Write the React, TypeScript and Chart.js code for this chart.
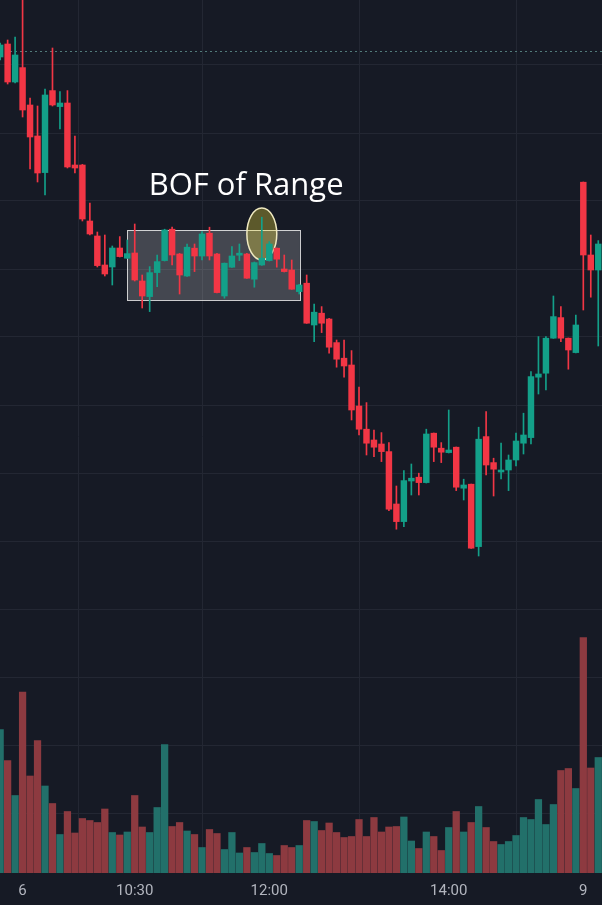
import { useEffect, useRef } from 'react';
import { Chart, registerables } from 'chart.js';

Chart.register(...registerables);

// ---- data (5-minute candles; index 0..80) ----
const openPrices = [480, 486.5, 467.5, 474.7, 456, 440.5, 422.2, 463.2, 455.2, 457, 426, 426, 398, 390.5, 376, 375, 384.5, 379.4, 382, 368, 360.2, 372.2, 378.2, 393.9, 381.5, 370.5, 384.4, 380.5, 391.9, 381.5, 360.5, 374.9, 380.9, 381.5, 368.9, 376, 378.2, 384.4, 374, 373.5, 362.7, 366.9, 346, 351.9, 349, 337.2, 329.4, 326, 305.5, 293.9, 288.5, 286.5, 282.7, 256.5, 247.7, 268, 269.9, 267.2, 291.9, 284.4, 282.2, 284.9, 264.4, 266.4, 235.2, 290.2, 277.2, 272.5, 273.5, 278.5, 286.9, 289.7, 319.9, 321.9, 339.4, 349.7, 339.4, 332.2, 417.4, 381, 373.5];
const highPrices = [487, 488.5, 490, 512, 459.5, 455.5, 464, 484.5, 462.7, 463.2, 440.5, 426.3, 407, 392.5, 391, 385.5, 390.2, 388.5, 396.5, 371, 375.2, 381, 393.9, 394.9, 381.8, 386.5, 386.5, 392.7, 394.9, 381.8, 377, 385.2, 386.5, 381.8, 377.5, 399.9, 387.7, 384.5, 381, 378.5, 366.3, 371, 356.5, 355.2, 349.3, 338.5, 338.5, 333.2, 314.9, 307.2, 293.5, 292.2, 287.2, 265.5, 273.2, 276.5, 271.9, 293.9, 292, 287.2, 303.5, 285, 268.9, 266.5, 294.9, 302.7, 279.4, 286.9, 281, 291.9, 301.9, 322.7, 340.2, 340.2, 360.5, 355.2, 339.5, 351, 417.5, 391, 388.2];
const lowPrices = [478.5, 466.5, 467, 450, 424, 417.5, 411, 455.5, 444, 424.5, 422, 398, 391, 375, 370.5, 366, 380, 379.3, 368, 354.5, 352.7, 365.2, 378, 376, 361.5, 370.3, 372.7, 378.5, 378.5, 362, 359.4, 374.8, 378.2, 369.3, 364.9, 375.8, 378, 374.9, 372.5, 363.8, 361.5, 346.8, 337.7, 342.2, 331.9, 324.9, 319.9, 298.5, 291, 281, 280.2, 277.7, 253.2, 243.9, 245.2, 261, 261, 267, 277.7, 277.2, 282, 263.2, 258.5, 234.3, 230.5, 271, 260.5, 269, 263.2, 275.5, 281.5, 286.5, 311.5, 313.5, 339.3, 337.7, 323.9, 332, 353.5, 359.9, 335.5];
const closePrices = [486, 467.5, 481, 453.5, 440, 422, 461, 456, 457, 425, 424.5, 399, 391.5, 375.7, 371.5, 384.5, 380.2, 381.7, 368.5, 360.5, 372.2, 377.7, 393.5, 381, 371, 384.9, 380.5, 391.5, 380.5, 362.2, 376.9, 380.5, 381.9, 369.4, 377.2, 379.4, 386.5, 378.9, 372.7, 363.9, 366, 346.9, 352.4, 346.9, 334.9, 328.9, 325.5, 303.5, 293.9, 286.9, 284.9, 282.7, 253.9, 247.7, 268.2, 269.4, 267.2, 291.5, 284.9, 282.4, 283.5, 264.9, 266, 234.4, 288.9, 276, 273.9, 273.5, 278.5, 288, 291, 320.2, 321.5, 339.4, 350.2, 339.4, 333.5, 346, 381, 373.5, 386.5];
const volumes = [287, 225, 155, 362, 194, 265, 174, 139, 77, 123, 80, 109, 105, 101, 128, 81, 76, 82, 155, 92, 81, 131, 257, 93, 101, 84, 77, 51, 87, 79, 47, 81, 40, 51, 41, 59, 39, 35, 55, 51, 55, 105, 103, 85, 100, 81, 71, 73, 107, 73, 111, 82, 92, 93, 112, 64, 49, 82, 73, 45, 91, 123, 82, 101, 133, 91, 63, 57, 63, 75, 111, 107, 147, 97, 137, 205, 209, 169, 471, 210, 231];

const tickIndex = [3, 18, 36, 60, 78];
const tickLabels = ['6', '10:30', '12:00', '14:00', '9'];
const priceGrid = [102, 136, 170, 204, 238, 272, 306, 340, 374, 408, 442, 476];

// drawings in data space
const rangeBox = { from: 17, to: 40.1, top: 393.5, bottom: 358.5 };
const bofMark = { at: 35, price: 391.5, halfBars: 2, halfPrice: 13 };
const noteText = 'BOF of Range';
const notePos = { at: 32.9, price: 411 };
const dottedLevel = 482.8;

const UP = '#13a089';
const DOWN = '#f23645';
const UP_VOL = '#22706a';
const DOWN_VOL = '#8d3a40';
const BG = '#161a25';
const GRID = '#232733';

const drawings = {
  id: 'drawings',
  beforeDatasetsDraw(chart: any) {
    const { ctx, scales } = chart;
    const x = scales.x;
    const y = scales.y;
    const area = chart.chartArea;
    ctx.save();
    // dotted level line
    ctx.strokeStyle = 'rgba(92,140,138,0.85)';
    ctx.lineWidth = 1;
    ctx.setLineDash([2, 3]);
    const ly = Math.round(y.getPixelForValue(dottedLevel)) + 0.5;
    ctx.beginPath();
    ctx.moveTo(area.left, ly);
    ctx.lineTo(area.right, ly);
    ctx.stroke();
    ctx.setLineDash([]);
    // range rectangle
    const x0 = x.getPixelForValue(rangeBox.from);
    const x1 = x.getPixelForValue(rangeBox.to);
    const y0 = y.getPixelForValue(rangeBox.top);
    const y1 = y.getPixelForValue(rangeBox.bottom);
    ctx.fillStyle = 'rgba(255,255,255,0.2)';
    ctx.fillRect(x0, y0, x1 - x0, y1 - y0);
    ctx.strokeStyle = 'rgba(235,235,235,0.85)';
    ctx.lineWidth = 1;
    ctx.strokeRect(Math.round(x0) + 0.5, Math.round(y0) + 0.5, Math.round(x1 - x0), Math.round(y1 - y0));
    // ellipse
    const cx = x.getPixelForValue(bofMark.at);
    const cy = y.getPixelForValue(bofMark.price);
    const rx = Math.abs(x.getPixelForValue(bofMark.at + bofMark.halfBars) - cx);
    const ry = Math.abs(y.getPixelForValue(bofMark.price + bofMark.halfPrice) - cy);
    ctx.beginPath();
    ctx.ellipse(cx, cy, rx, ry, 0, 0, Math.PI * 2);
    ctx.fillStyle = 'rgba(255,235,59,0.3)';
    ctx.fill();
    ctx.strokeStyle = '#efe9c0';
    ctx.lineWidth = 1.5;
    ctx.stroke();
    ctx.restore();
  },
  afterDatasetsDraw(chart: any) {
    const { ctx, scales } = chart;
    ctx.save();
    ctx.font = '31px "Open Sans"';
    ctx.fillStyle = '#ffffff';
    ctx.textAlign = 'center';
    ctx.textBaseline = 'alphabetic';
    ctx.fillText(noteText, scales.x.getPixelForValue(notePos.at), scales.y.getPixelForValue(notePos.price));
    ctx.restore();
  },
};

export default function App() {
  const ref = useRef<HTMLCanvasElement>(null);

  useEffect(() => {
    document.body.style.margin = '0';
    document.body.style.background = BG;
    const n = openPrices.length;
    const idx = Array.from({ length: n }, (_, i) => i);
    const isUp = idx.map((i) => closePrices[i] >= openPrices[i]);

    const chart = new Chart(ref.current as HTMLCanvasElement, {
      type: 'bar',
      data: {
        datasets: [
          {
            label: 'Bodies',
            data: idx.map((i) => ({ x: i, y: [openPrices[i], closePrices[i]] })) as any,
            backgroundColor: idx.map((i) => (isUp[i] ? UP : DOWN)),
            barThickness: 5.8,
            minBarLength: 1,
            grouped: false,
            order: 0,
            yAxisID: 'y',
          } as any,
          {
            label: 'Wicks',
            data: idx.map((i) => ({ x: i, y: [lowPrices[i], highPrices[i]] })) as any,
            backgroundColor: idx.map((i) => (isUp[i] ? UP : DOWN)),
            barThickness: 1,
            grouped: false,
            order: 1,
            yAxisID: 'y',
          } as any,
          {
            label: 'Volume',
            data: idx.map((i) => ({ x: i, y: volumes[i] })) as any,
            backgroundColor: idx.map((i) => (isUp[i] ? UP_VOL : DOWN_VOL)),
            barThickness: 6.6,
            grouped: false,
            order: 2,
            yAxisID: 'yv',
          } as any,
        ],
      },
      options: {
        animation: false,
        responsive: true,
        maintainAspectRatio: false,
        events: [],
        layout: { padding: 0, autoPadding: false } as any,
        plugins: { legend: { display: false }, tooltip: { enabled: false } },
        scales: {
          x: {
            type: 'linear',
            min: -0.02,
            max: 80.5,
            offset: false,
            afterBuildTicks: (scale: any) => {
              scale.ticks = tickIndex.map((v) => ({ value: v }));
            },
            afterFit: (scale: any) => {
              scale.height = 32;
            },
            grid: { color: GRID, drawTicks: false, lineWidth: 1 },
            border: { display: false },
            ticks: {
              color: '#b2b5be',
              font: { family: 'Roboto', size: 15 },
              padding: 9,
              maxRotation: 0,
              autoSkip: false,
              callback: (value: any) => {
                const j = tickIndex.indexOf(Number(value));
                return j >= 0 ? tickLabels[j] : '';
              },
            },
          },
          y: {
            type: 'linear',
            position: 'right',
            min: 72,
            max: 508.5,
            afterBuildTicks: (scale: any) => {
              scale.ticks = priceGrid.map((v) => ({ value: v }));
            },
            afterFit: (scale: any) => {
              scale.width = 0;
            },
            grid: { color: GRID, drawTicks: false },
            border: { display: false },
            ticks: { display: false },
          },
          yv: {
            type: 'linear',
            display: false,
            min: 0,
            max: 1746,
          },
        } as any,
      },
      plugins: [drawings],
    });
    return () => chart.destroy();
  }, []);

  return (
    <div style={{ position: 'relative', width: 602, height: 905, background: BG }}>
      <canvas ref={ref} />
    </div>
  );
}
